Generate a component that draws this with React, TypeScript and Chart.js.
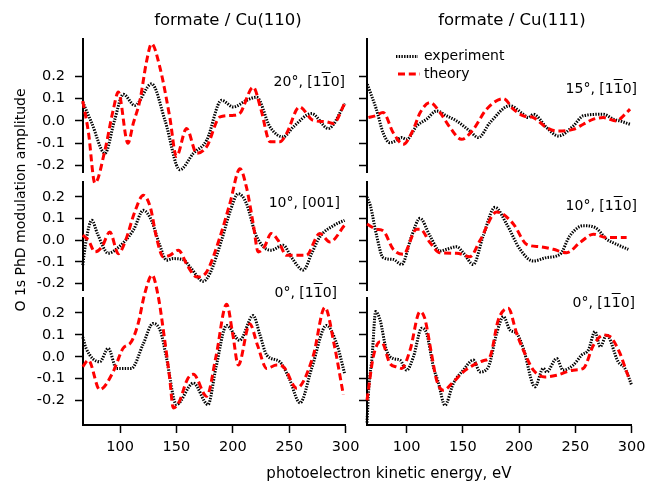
import React, { useEffect, useRef } from "react";
import { Chart, registerables } from "chart.js";

Chart.register(...registerables);

type Pt = [number, number];

// ---- tick values ----
const energyTicks = [100, 150, 200, 250, 300];
const amplitudeTicks = [-0.2, -0.1, 0.0, 0.1, 0.2];

// ---- formate / Cu(110), 20°, [1-10] ----
const cu110_20_experiment: Pt[] = [
  [67, 0.085], [75, -0.01], [86.7, -0.146], [95, 0.0], [103, 0.12], [113, 0.07], [128, 0.167],
  [140, 0.0], [153, -0.22], [165, -0.146], [176.8, -0.087], [190, 0.093], [200.4, 0.063],
  [212.2, 0.093], [221, 0.107], [232.9, -0.027], [244.7, -0.072], [253.6, -0.027],
  [269.8, 0.033], [284.6, -0.034], [299.4, 0.078],
];
const cu110_20_theory: Pt[] = [
  [67, 0.09], [72, -0.05], [77.8, -0.28], [86.7, -0.13], [94, 0.05], [98.5, 0.13], [107, -0.1],
  [111.8, -0.01], [117.7, 0.093], [123.6, 0.27], [128, 0.348], [135.4, 0.24], [144, 0.02],
  [150, -0.16], [159, -0.034], [168, -0.146], [176.8, -0.116], [188.6, 0.018], [200, 0.025],
  [206, 0.033], [218, 0.152], [225, 0.05], [233, -0.094], [241.7, -0.094], [247.6, -0.057],
  [259, 0.063], [271, 0.003], [283, -0.004], [289, -0.012], [299, 0.078],
];

// ---- formate / Cu(110), 10°, [001] ----
const cu110_10_experiment: Pt[] = [
  [67, -0.115], [70, 0.0], [75, 0.092], [80, 0.03], [89.6, -0.06], [95.5, -0.046], [111.8, 0.046],
  [120.7, 0.138], [128, 0.09], [135, -0.02], [141.3, -0.092], [147, -0.085], [156, -0.09],
  [163, -0.13], [173.8, -0.19], [180, -0.15], [190, 0.0], [198, 0.14], [204.8, 0.215],
  [212, 0.17], [220, 0.03], [227, -0.03], [234, -0.046], [244.7, -0.023], [252, -0.08],
  [262.4, -0.138], [270, -0.06], [277, 0.015], [290, 0.07], [299, 0.092],
];
const cu110_10_theory: Pt[] = [
  [67, 0.023], [72, 0.0], [77.8, -0.054], [84, -0.03], [91, 0.038], [98.5, -0.062], [105, 0.0],
  [113, 0.13], [120.7, 0.208], [127, 0.15], [132, 0.02], [138.4, -0.077], [144, -0.07],
  [151.7, -0.046], [160, -0.12], [168, -0.17], [176.8, -0.146], [188.6, 0.015], [197.4, 0.17],
  [206.3, 0.33], [212, 0.246], [218, 0.077], [222.5, -0.054], [228, -0.03], [234, 0.031],
  [240, 0.0], [247.6, -0.07], [265, -0.07], [277, 0.031], [286, -0.008], [299, 0.069],
];

// ---- formate / Cu(110), 0°, [1-10] ----
const cu110_0_experiment: Pt[] = [
  [67, 0.09], [70, 0.038], [82, -0.023], [89.6, 0.038], [97, -0.053], [110, -0.053],
  [120.7, 0.06], [129.2, 0.152], [136, 0.115], [141, 0.0], [150, -0.218], [165, -0.12],
  [178, -0.218], [185, -0.05], [194.5, 0.143], [206, 0.075], [218, 0.188], [224, 0.1],
  [230, 0.008], [241.7, -0.023], [250, -0.1], [259.5, -0.21], [270, -0.05], [283, 0.143],
  [292, 0.06], [299, -0.075],
];
const cu110_0_theory: Pt[] = [
  [67, -0.045], [72, -0.015], [82, -0.15], [94, -0.068], [97, -0.03], [102.6, 0.038], [110, 0.068],
  [116, 0.15], [122, 0.29], [128.4, 0.373], [133.7, 0.28], [139.6, 0.076], [144, -0.097],
  [147.2, -0.233], [152, -0.21], [160, -0.1], [165, -0.08], [176.8, -0.18], [185, 0.0],
  [194.5, 0.24], [200, 0.1], [204.8, -0.038], [215, 0.15], [222, 0.05], [230, -0.053],
  [238.8, -0.038], [244.7, -0.045], [256.5, -0.143], [271, 0.0], [281.6, 0.225], [290, 0.05],
  [297.9, -0.173],
];

// ---- formate / Cu(111), 15°, [1-10] ----
const cu111_15_experiment: Pt[] = [
  [65, 0.165], [69, 0.11], [73, 0.053], [79, -0.053], [85, -0.098], [90, -0.09], [95.5, -0.075],
  [100, -0.083], [108.8, -0.023], [117.7, 0.008], [126.6, 0.045], [135.5, 0.023], [144.4, 0.0],
  [156, -0.045], [163.7, -0.075], [174, -0.008], [191.8, 0.068], [203.7, 0.03], [208, 0.015],
  [212.6, 0.03], [224.4, -0.03], [234.8, -0.068], [248, -0.023], [257, 0.023], [274.8, 0.03],
  [283.7, 0.008], [289.6, 0.0], [298.5, -0.015],
];
const cu111_15_theory: Pt[] = [
  [66, 0.015], [72, 0.023], [79, 0.038], [88, -0.053], [97, -0.105], [105.9, -0.038], [112, 0.038],
  [120.7, 0.083], [129.6, 0.038], [138.5, -0.03], [148.8, -0.083], [159.2, -0.038], [171, 0.053],
  [186, 0.1], [194.8, 0.053], [203.7, 0.023], [212.6, 0.015], [224.4, -0.03], [233.3, -0.045],
  [248, -0.038], [257, -0.015], [266, 0.008], [274.8, 0.015], [286.6, 0.0], [292.6, 0.023],
  [298.5, 0.053],
];

// ---- formate / Cu(111), 10°, [1-10] ----
const cu111_10_experiment: Pt[] = [
  [64.7, 0.2], [67.7, 0.16], [73.3, 0.02], [79, -0.08], [88, -0.089], [95.5, -0.112],
  [104.4, 0.02], [111.8, 0.101], [120.7, 0.02], [129.6, -0.05], [135.5, -0.042], [144.4, -0.03],
  [150.3, -0.058], [159.2, -0.112], [168, 0.02], [178.5, 0.152], [188.8, 0.075], [200.7, -0.042],
  [212.6, -0.096], [224.4, -0.08], [236.3, -0.065], [245, 0.02], [257, 0.067], [267.4, 0.059],
  [277.7, 0.005], [286.6, -0.019], [297, -0.042],
];
const cu111_10_theory: Pt[] = [
  [64.7, 0.075], [73, 0.051], [79, 0.044], [88, -0.042], [97, -0.065], [108.8, 0.051],
  [112, 0.051], [120.7, -0.011], [129.6, -0.058], [144.4, -0.06], [156.3, -0.076], [165, -0.003],
  [180, 0.13], [194.8, 0.075], [206.6, -0.019], [218.5, -0.03], [230.3, -0.042], [242.2, -0.058],
  [254, -0.011], [266, 0.028], [277.7, 0.012], [295.5, 0.012],
];

// ---- formate / Cu(111), 0°, [1-10] ----
const cu111_0_experiment: Pt[] = [
  [64.7, -0.3], [66.2, -0.15], [69.2, 0.0], [72.4, 0.206], [76.3, 0.168], [82, 0.03], [88, -0.008],
  [94, -0.015], [100, -0.061], [106, 0.0], [113.3, 0.13], [117.7, 0.107], [123.7, -0.046],
  [128, -0.115], [134, -0.221], [141.4, -0.122], [150.3, -0.061], [159.2, -0.015],
  [165.2, -0.069], [172.6, -0.046], [180, 0.107], [186, 0.183], [191.8, 0.122], [197.7, 0.107],
  [203.7, 0.038], [214, -0.137], [221.4, -0.053], [224.4, -0.069], [233.3, -0.008], [239, -0.061],
  [248, -0.038], [255.5, 0.008], [261.5, 0.031], [267.4, 0.115], [272, 0.046], [277.7, 0.099],
  [288, -0.023], [294, -0.053], [300, -0.13],
];
const cu111_0_theory: Pt[] = [
  [64.7, -0.198], [70.3, 0.0], [76.3, 0.069], [79, 0.06], [85, -0.03], [91, -0.046], [95.5, -0.053],
  [103, 0.031], [111.8, 0.206], [116, 0.176], [122, 0.015], [126.6, -0.107], [132.5, -0.153],
  [141.4, -0.115], [150.3, -0.069], [159.2, -0.038], [168, -0.018], [174, 0.0], [181.4, 0.168],
  [190.3, 0.221], [197.7, 0.107], [205, 0.015], [212.6, -0.061], [223, -0.092], [233.3, -0.084],
  [248, -0.061], [257, -0.053], [266, 0.053], [274.8, 0.099], [280.7, 0.092], [289.6, 0.015],
  [295.5, -0.069], [298.5, -0.107],
];

// ---- layout ----
const W = 645;
const H = 483;
const FONT = "'DejaVu Sans', 'Liberation Sans', sans-serif";

const rows = [
  { top: 39, bottom: 172, yMin: -0.23, yMax: 0.369 },
  { top: 182, bottom: 290, yMin: -0.23, yMax: 0.269 },
  { top: 298, bottom: 425, yMin: -0.311, yMax: 0.268 },
];
const cols = [
  { left: 83, right: 345.7, xMin: 67.2 },
  { left: 367, right: 631.7, xMin: 64.7 },
];

interface PanelSpec {
  row: number;
  col: number;
  experiment: Pt[];
  theory: Pt[];
  legend?: boolean;
}

const panels: PanelSpec[] = [
  { row: 0, col: 0, experiment: cu110_20_experiment, theory: cu110_20_theory },
  { row: 1, col: 0, experiment: cu110_10_experiment, theory: cu110_10_theory },
  { row: 2, col: 0, experiment: cu110_0_experiment, theory: cu110_0_theory },
  { row: 0, col: 1, experiment: cu111_15_experiment, theory: cu111_15_theory, legend: true },
  { row: 1, col: 1, experiment: cu111_10_experiment, theory: cu111_10_theory },
  { row: 2, col: 1, experiment: cu111_0_experiment, theory: cu111_0_theory },
];

const legendSamples = {
  id: "legendSamples",
  afterDatasetsDraw(chart: any, _args: any, opts: any) {
    if (!opts || !opts.items) return;
    const ctx = chart.ctx as CanvasRenderingContext2D;
    opts.items.forEach((it: any) => {
      const ds = chart.data.datasets[it.dataset];
      ctx.save();
      ctx.strokeStyle = ds.borderColor;
      ctx.lineWidth = ds.borderWidth;
      ctx.setLineDash(ds.borderDash || []);
      ctx.lineCap = "butt";
      ctx.beginPath();
      ctx.moveTo(it.x0, it.y);
      ctx.lineTo(it.x1, it.y);
      ctx.stroke();
      ctx.restore();
    });
  },
};

function Panel({ spec }: { spec: PanelSpec }) {
  const ref = useRef<HTMLCanvasElement>(null);
  useEffect(() => {
    const r = rows[spec.row];
    const c = cols[spec.col];
    const showX = spec.row === 2;
    const showYLabels = spec.col === 0;
    const axisGrid = {
      drawOnChartArea: false,
      drawTicks: true,
      tickLength: 8,
      tickWidth: 1.5,
      tickColor: "#000",
    };
    const axisBorder = { display: true, color: "#000", width: 2 };
    const chart = new Chart(ref.current as HTMLCanvasElement, {
      type: "line",
      data: {
        datasets: [
          {
            label: "theory",
            data: spec.theory as any,
            borderColor: "#ff0000",
            borderWidth: 3,
            borderDash: [7, 3.8],
            pointRadius: 0,
            cubicInterpolationMode: "monotone",
            fill: false,
            clip: false as any,
          },
          {
            label: "experiment",
            data: spec.experiment as any,
            borderColor: "#000000",
            borderWidth: 3,
            borderDash: [1.4, 1.3],
            pointRadius: 0,
            cubicInterpolationMode: "monotone",
            fill: false,
            clip: false as any,
          },
        ],
      },
      plugins: spec.legend ? [legendSamples as any] : [],
      options: {
        responsive: false,
        animation: false,
        events: [],
        layout: {
          padding: {
            left: 0,
            top: r.top,
            right: W - c.right,
            bottom: showX ? 0 : H - r.bottom,
          },
        },
        plugins: {
          legend: { display: false },
          tooltip: { enabled: false },
          legendSamples: spec.legend
            ? {
                items: [
                  { dataset: 1, x0: 396, x1: 418, y: 56.5 },
                  { dataset: 0, x0: 398, x1: 420, y: 74 },
                ],
              }
            : {},
        } as any,
        scales: {
          x: {
            type: "linear",
            min: c.xMin,
            max: 300,
            display: showX,
            afterBuildTicks: (s: any) => {
              s.ticks = energyTicks.map((v) => ({ value: v }));
            },
            afterFit: (s: any) => {
              if (showX) s.height = H - r.bottom;
              s.paddingLeft = 0;
              s.paddingRight = 0;
            },
            grid: axisGrid,
            border: axisBorder,
            ticks: {
              padding: 6,
              color: "#000",
              font: { family: FONT, size: 14.5 },
              maxRotation: 0,
              autoSkip: false,
              callback: (v: any) => String(v),
            },
          },
          y: {
            type: "linear",
            min: r.yMin,
            max: r.yMax,
            afterBuildTicks: (s: any) => {
              s.ticks = amplitudeTicks.map((v) => ({ value: v }));
            },
            afterFit: (s: any) => {
              s.width = c.left;
              s.paddingTop = 0;
              s.paddingBottom = 0;
            },
            grid: axisGrid,
            border: axisBorder,
            ticks: {
              display: showYLabels,
              padding: 10,
              color: "#000",
              font: { family: FONT, size: 14.5 },
              callback: (v: any) => Number(v).toFixed(1),
            },
          },
        },
      } as any,
    });
    return () => chart.destroy();
  }, [spec]);
  return (
    <canvas
      ref={ref}
      width={W}
      height={H}
      style={{ position: "absolute", left: 0, top: 0, width: W, height: H }}
    />
  );
}

const OB = ({ children }: { children: React.ReactNode }) => (
  <span style={{ textDecoration: "overline" }}>{children}</span>
);

function Text({
  x,
  y,
  size,
  align,
  children,
}: {
  x: number;
  y: number;
  size: number;
  align: "left" | "right" | "center";
  children: React.ReactNode;
}) {
  // y = baseline
  const top = y - 0.846 * size;
  const style: React.CSSProperties = {
    position: "absolute",
    top,
    fontFamily: FONT,
    fontSize: size,
    lineHeight: `${size}px`,
    color: "#000",
    whiteSpace: "nowrap",
  };
  if (align === "left") {
    style.left = x;
  } else if (align === "right") {
    style.right = W - x;
    style.textAlign = "right";
  } else {
    style.left = x - 200;
    style.width = 400;
    style.textAlign = "center";
  }
  return <div style={style}>{children}</div>;
}

export default function App() {
  return (
    <div
      style={{
        position: "absolute",
        left: 0,
        top: 0,
        width: W,
        height: H,
        background: "#fff",
        overflow: "hidden",
      }}
    >
      {panels.map((p, i) => (
        <Panel key={i} spec={p} />
      ))}

      <Text x={228} y={25.5} size={16.5} align="center">formate / Cu(110)</Text>
      <Text x={512} y={25.5} size={16.5} align="center">formate / Cu(111)</Text>

      <Text x={424} y={60} size={14} align="left">experiment</Text>
      <Text x={424} y={78.3} size={14} align="left">theory</Text>

      <Text x={345} y={86} size={14} align="right">20°, [1<OB>1</OB>0]</Text>
      <Text x={637} y={92.5} size={14} align="right">15°, [1<OB>1</OB>0]</Text>
      <Text x={340} y={207} size={14} align="right">10°, [001]</Text>
      <Text x={637} y={209.5} size={14} align="right">10°, [1<OB>1</OB>0]</Text>
      <Text x={337} y={297} size={14} align="right">0°, [1<OB>1</OB>0]</Text>
      <Text x={635} y={307} size={14} align="right">0°, [1<OB>1</OB>0]</Text>

      <Text x={389} y={479} size={15} align="center">photoelectron kinetic energy, eV</Text>

      <div
        style={{
          position: "absolute",
          left: 20 - 160,
          top: 200 - 7,
          width: 320,
          height: 14,
          fontFamily: FONT,
          fontSize: 14,
          lineHeight: "14px",
          textAlign: "center",
          color: "#000",
          whiteSpace: "nowrap",
          transform: "rotate(-90deg)",
          transformOrigin: "50% 50%",
        }}
      >
        O 1s PhD modulation amplitude
      </div>
    </div>
  );
}
